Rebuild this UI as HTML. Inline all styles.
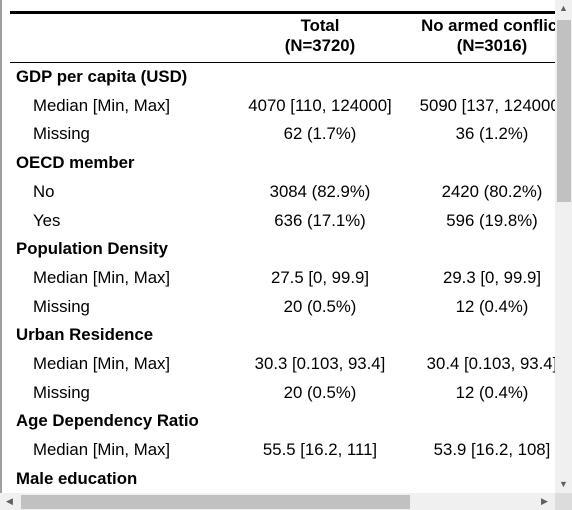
<!DOCTYPE html>
<html><head><meta charset="utf-8"><style>
body{margin:0;width:572px;height:510px;overflow:hidden;background:#fff;font-family:"Liberation Sans",Arial,sans-serif;font-size:16.8px;color:#000;position:relative}
.b{position:absolute;left:0;top:0;width:2px;height:510px;background:#a0a0a0}
.vs{position:absolute;left:555px;top:0;width:17px;height:493px;background:#f0f0f0}
.vt{position:absolute;left:557px;top:20px;width:14px;height:182px;background:#c1c1c1}
.hs{position:absolute;left:0;top:493px;width:555px;height:17px;background:#f0f0f0}
.ht{position:absolute;left:21px;top:495px;width:389px;height:14px;background:#c1c1c1}
.cr{position:absolute;left:555px;top:493px;width:17px;height:17px;background:#dcdcdc}
.ar{position:absolute;font-size:9px;color:#606060}
.clip{position:absolute;left:0;top:0;width:555px;height:493px;overflow:hidden}
.row{position:absolute;left:0;height:28px;line-height:28px;width:700px}
.l{position:absolute;left:16px;white-space:nowrap}
.l.i{left:33px}
.c1{position:absolute;left:220px;width:200px;text-align:center;white-space:nowrap}
.c2{position:absolute;left:392px;width:200px;text-align:center;white-space:nowrap}
.h{font-weight:bold}
</style></head><body>
<div class="b"></div>
<div class="clip">
<div style="position:absolute;left:10px;top:11px;width:546px;height:3px;background:#000"></div>
<div style="position:absolute;left:10px;top:62px;width:546px;height:1px;background:#000"></div>
<div class="h" style="position:absolute;left:220px;top:16px;width:200px;text-align:center;line-height:20px">Total<br>(N=3720)</div>
<div class="h" style="position:absolute;left:392px;top:16px;width:200px;text-align:center;line-height:20px;white-space:nowrap">No armed conflict<br>(N=3016)</div>
<div id="rows"></div>
</div>
<div class="vs"></div>
<div class="vt"></div>
<div class="ar" style="left:559px;top:3px">▲</div>
<div class="ar" style="left:559px;top:479px">▼</div>
<div class="hs"></div>
<div class="ht"></div>
<div class="ar" style="left:6px;top:496px">◀</div>
<div class="ar" style="left:541px;top:496px">▶</div>
<div class="cr"></div>
<script>
const labels=["GDP per capita (USD)","Median [Min, Max]","Missing","OECD member","No","Yes","Population Density","Median [Min, Max]","Missing","Urban Residence","Median [Min, Max]","Missing","Age Dependency Ratio","Median [Min, Max]","Male education"];
const totalVals=["","4070 [110, 124000]","62 (1.7%)","","3084 (82.9%)","636 (17.1%)","","27.5 [0, 99.9]","20 (0.5%)","","30.3 [0.103, 93.4]","20 (0.5%)","","55.5 [16.2, 111]",""];
const noConflictVals=["","5090 [137, 124000]","36 (1.2%)","","2420 (80.2%)","596 (19.8%)","","29.3 [0, 99.9]","12 (0.4%)","","30.4 [0.103, 93.4]","12 (0.4%)","","53.9 [16.2, 108]",""];
const wrap=document.getElementById('rows');
labels.forEach((lab,i)=>{
  const hdr=totalVals[i]===""&&noConflictVals[i]==="";
  const r=document.createElement('div');
  r.className='row';
  r.style.top=(63+i*28.7)+'px';
  
  
  const l=document.createElement('div');
  l.className='l'+(hdr?' h':' i');
  l.textContent=lab;
  
  
  r.appendChild(l);
  const a=document.createElement('div');a.className='c1';a.textContent=totalVals[i];
  
  
  r.appendChild(a);
  const b=document.createElement('div');b.className='c2';b.textContent=noConflictVals[i];
  
  
  r.appendChild(b);
  wrap.appendChild(r);
});
</script>
</body></html>
